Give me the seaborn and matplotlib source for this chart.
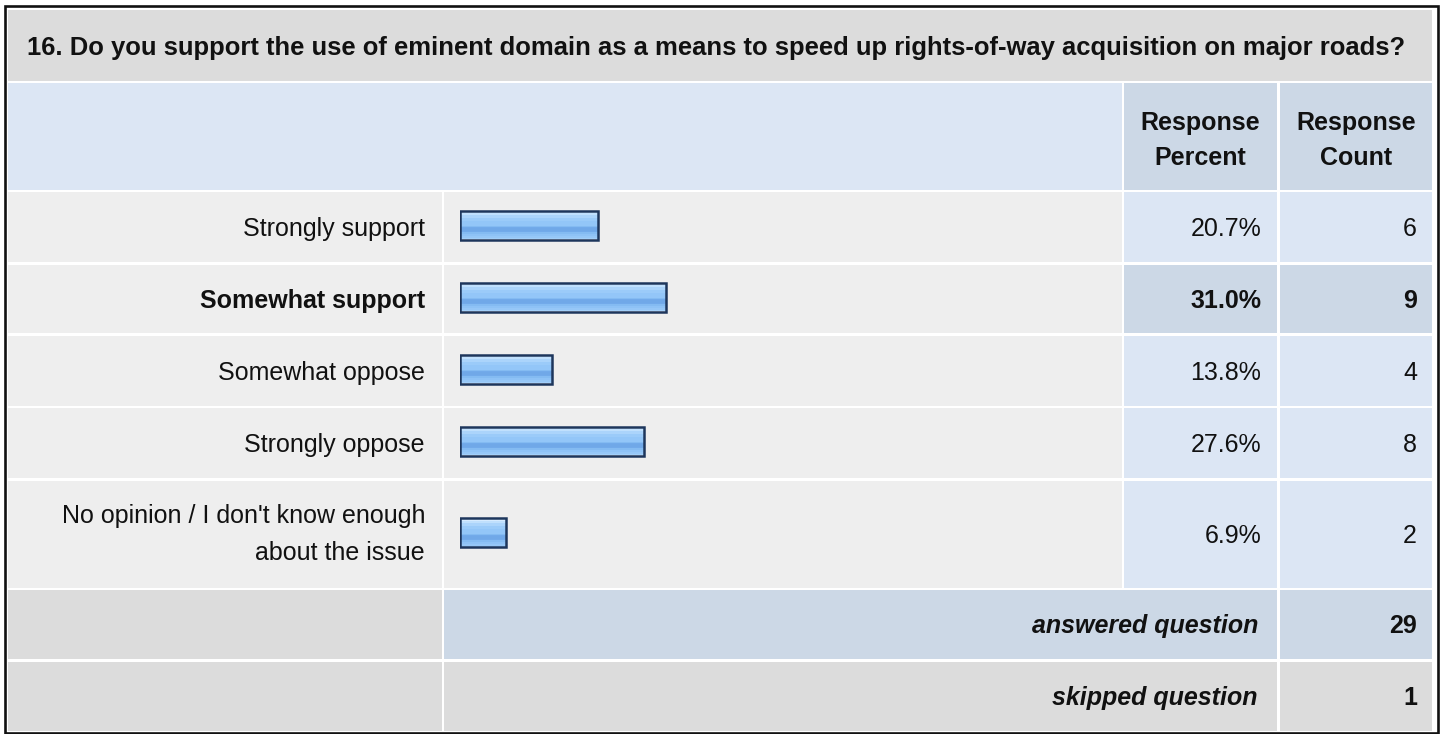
import numpy as np
import pandas as pd
import matplotlib
matplotlib.use("Agg")
import matplotlib.pyplot as plt
from matplotlib.patches import Rectangle
from matplotlib.colors import to_rgb
import seaborn as sns

# ---------------- data ----------------
question = ("16. Do you support the use of eminent domain as a means to speed up "
            "rights-of-way acquisition on major roads?")
answers = ["Strongly support", "Somewhat support", "Somewhat oppose",
           "Strongly oppose", "No opinion / I don't know enough\nabout the issue"]
percents = [20.7, 31.0, 13.8, 27.6, 6.9]
counts = [6, 9, 4, 8, 2]
answered_label = "answered question"
skipped_label = "skipped question"
answered = 29
skipped = 1
header_pct = "Response\nPercent"
header_cnt = "Response\nCount"

# ---------------- style ----------------
sns.set_style("white")
plt.rcParams['font.family'] = ['Liberation Sans', 'DejaVu Sans']

W, H = 1440, 734
fig = plt.figure(figsize=(W / 100, H / 100), dpi=100)
fig.patch.set_facecolor("white")

bg = fig.add_axes([0, 0, 1, 1])
bg.set_xlim(0, W)
bg.set_ylim(H, 0)
bg.axis("off")

C_TITLE = "#dcdcdc"
C_CELL = "#eeeeee"
C_BLUE = "#dce6f4"
C_BLUE2 = "#ccd8e6"
C_TEXT = "#111111"

# layout (pixels)
col_label = (8, 442)
col_bar = (444, 1122)
col_pct = (1124, 1277)
col_cnt = (1280, 1432)
row_title = (10, 81)
row_head = (83, 190)
rows = [(192, 262), (265, 333), (336, 406), (408, 478), (481, 588)]
row_ans = (590, 659)
row_skip = (662, 731)


def cell(cols, rr, color):
    bg.add_patch(Rectangle((cols[0], rr[0]), cols[1] - cols[0], rr[1] - rr[0],
                           facecolor=color, edgecolor="none", zorder=1))


FS = 18


def txt(x, yc, s, ha="right", weight="normal", style="normal", size=FS):
    bg.text(x, yc + 0.716 * size / 0.72 / 2, s, ha=ha, va="baseline",
            fontsize=size, fontweight=weight, fontstyle=style, color=C_TEXT, zorder=5)


def multiline(x, yc, s, spacing, ha="right", weight="normal"):
    lines = s.split("\n")
    n = len(lines)
    for k, ln in enumerate(lines):
        txt(x, yc + (k - (n - 1) / 2) * spacing, ln, ha=ha, weight=weight)


# title row
cell((col_label[0], col_cnt[1]), row_title, C_TITLE)
t = bg.text(27, 55, question, ha="left", va="baseline", fontsize=17,
            fontweight="bold", color=C_TEXT, zorder=5)
fig.canvas.draw()
r = fig.canvas.get_renderer()
wpx = t.get_window_extent(renderer=r).width
t.set_fontsize(17 * (1382 / wpx))

# header row
cell((col_label[0], col_bar[1]), row_head, C_BLUE)
cell(col_pct, row_head, C_BLUE2)
cell(col_cnt, row_head, C_BLUE2)
hc = (row_head[0] + row_head[1]) / 2 + 2.5
multiline((col_pct[0] + col_pct[1]) / 2, hc, header_pct, 35, ha="center", weight="bold")
multiline((col_cnt[0] + col_cnt[1]) / 2, hc, header_cnt, 35, ha="center", weight="bold")

# answer rows
top_i = int(np.argmax(counts))
for i, (ans, p, c) in enumerate(zip(answers, percents, counts)):
    rr = rows[i]
    yc = (rr[0] + rr[1]) / 2
    hl = (i == top_i)
    cell(col_label, rr, C_CELL)
    cell(col_bar, rr, C_CELL)
    cell(col_pct, rr, C_BLUE2 if hl else C_BLUE)
    cell(col_cnt, rr, C_BLUE2 if hl else C_BLUE)
    w = "bold" if hl else "normal"
    if "\n" in ans:
        multiline(425, yc - 2, ans, 37, weight=w)
    else:
        txt(425, yc, ans, weight=w)
    txt(1261, yc, f"{p:.1f}%", weight=w)
    txt(1417, yc, f"{c}", weight=w)

# summary rows
cell(col_label, row_ans, C_TITLE)
cell((col_bar[0], col_pct[1]), row_ans, C_BLUE2)
cell(col_cnt, row_ans, C_BLUE2)
yc = sum(row_ans) / 2
txt(1258, yc, answered_label, weight="bold", style="italic")
txt(1417, yc, f"{answered}", weight="bold")

cell(col_label, row_skip, C_TITLE)
cell((col_bar[0], col_pct[1]), row_skip, C_TITLE)
cell(col_cnt, row_skip, C_TITLE)
yc = sum(row_skip) / 2
txt(1258, yc, skipped_label, weight="bold", style="italic")
txt(1417, yc, f"{skipped}", weight="bold")

# outer border
bg.add_patch(Rectangle((4.5, 6), 1437.5 - 4.5, 733 - 6, facecolor="none",
                       edgecolor="#111111", linewidth=1.9, zorder=6))

# ---------------- bars (seaborn) ----------------
x0px, x100px = 460, 1125
bar_ax = fig.add_axes([x0px / W, 0, (x100px - x0px) / W, 1])
bar_ax.patch.set_alpha(0)
row_centers = [(a + b) / 2 - 2 for a, b in rows]
df = pd.DataFrame({"answer": answers, "percent": percents, "ypos": row_centers})
min_gap = np.min(np.diff(sorted(row_centers)))
BAR_H = 29
sns.barplot(data=df, x="percent", y="ypos", orient="y", native_scale=True,
            width=BAR_H / min_gap, color="#90c4f8", edgecolor="#1d365c",
            linewidth=1.8, errorbar=None, ax=bar_ax, zorder=3)
bar_ax.set_xlim(0, 100)
bar_ax.set_ylim(H, 0)
bar_ax.axis("off")

grad = ["#d6ebff", "#d6ebff", "#c0e0fd", "#c0e0fd", "#abd4fb", "#abd4fb",
        "#9bcbf9", "#9bcbf9", "#93c6f8", "#93c6f8", "#93c6f8", "#93c6f8",
        "#84bbf2", "#72aaea", "#70a8e8", "#70a8e8", "#72aaea", "#84bbf2",
        "#8ec2f6", "#8ec2f6", "#96c7f7", "#a2cff9"]
img = np.array([to_rgb(c) for c in grad])[:, None, :]
for patch in list(bar_ax.patches):
    bb = patch.get_bbox()
    patch.set_facecolor("none")
    patch.set_zorder(4)
    im = bar_ax.imshow(img, extent=[bb.x0, bb.x1, max(bb.y0, bb.y1), min(bb.y0, bb.y1)],
                       aspect="auto", interpolation="nearest", origin="upper", zorder=3)
    im.set_clip_path(patch)
bar_ax.set_xlim(0, 100)
bar_ax.set_ylim(H, 0)

fig.savefig("out.png", dpi=100)
